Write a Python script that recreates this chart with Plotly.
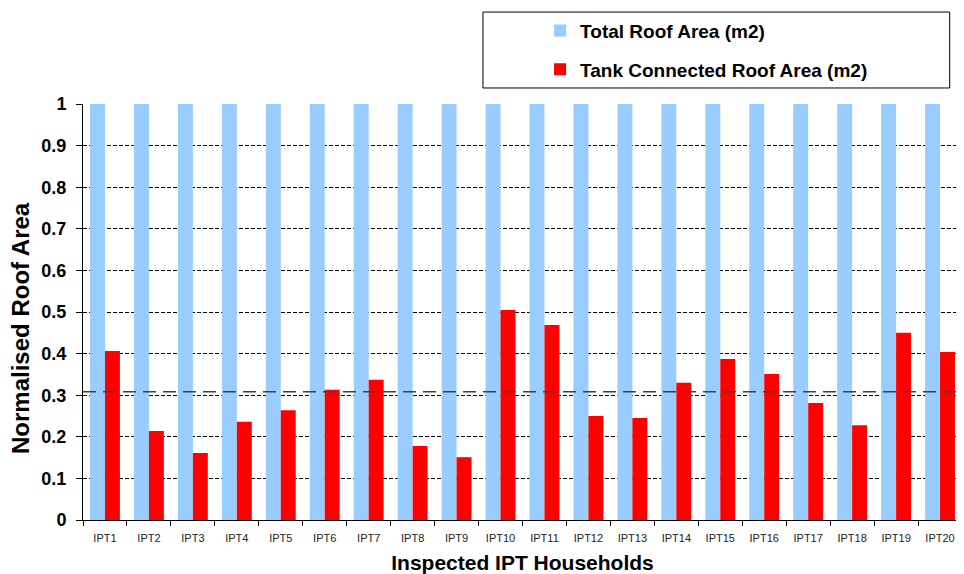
import plotly.graph_objects as go

households = [f"IPT{i}" for i in range(1, 21)]
total_roof = [1.0] * 20
tank_roof = [0.406, 0.214, 0.161, 0.236, 0.264, 0.313, 0.337, 0.178, 0.151, 0.505,
             0.469, 0.250, 0.245, 0.330, 0.387, 0.351, 0.281, 0.228, 0.450, 0.404]
y_ticks = [0, 0.1, 0.2, 0.3, 0.4, 0.5, 0.6, 0.7, 0.8, 0.9, 1]
y_tick_labels = ["0", "0.1", "0.2", "0.3", "0.4", "0.5", "0.6", "0.7", "0.8", "0.9", "1"]

mean_tank = sum(tank_roof) / len(tank_roof)

FONT = "Liberation Sans, Arial, sans-serif"

fig = go.Figure()
fig.add_trace(go.Bar(x=households, y=total_roof, name="Total Roof Area (m2)",
                     marker=dict(color="#99CCFF", line=dict(width=0)), legendgroup="a"))
fig.add_trace(go.Bar(x=households, y=tank_roof, name="Tank Connected Roof Area (m2)",
                     marker=dict(color="#FF0000", line=dict(width=0)), legendgroup="b"))

fig.add_shape(type="line", xref="paper", x0=0, x1=1, yref="y", y0=mean_tank, y1=mean_tank,
              line=dict(color="#404040", width=1.5, dash="13px,7px"), layer="above")

# legend frame
fig.add_shape(type="rect", xref="paper", yref="paper",
              x0=0.455, x1=0.986, y0=1.0385, y1=1.221,
              line=dict(color="black", width=1), fillcolor="white", layer="below")

# y-axis title (as annotation to match its slightly lowered position)
fig.add_annotation(text="<b>Normalised Roof Area</b>", textangle=-90,
                   xref="paper", yref="paper", x=-0.0717, y=0.4615,
                   xanchor="center", yanchor="middle", showarrow=False,
                   font=dict(size=24, family=FONT, color="black"))

fig.update_layout(
    width=956, height=566,
    margin=dict(l=75, r=2, t=96, b=54),
    paper_bgcolor="white", plot_bgcolor="white",
    barmode="group", bargap=0.32, bargroupgap=0,
    font=dict(family=FONT, color="black"),
    showlegend=True,
    legend=dict(x=0.52, y=1.222, xanchor="left", yanchor="top",
                bgcolor="rgba(0,0,0,0)", borderwidth=0,
                font=dict(size=19, family=FONT, color="black", weight="bold"),
                tracegroupgap=11, traceorder="grouped"),
    xaxis=dict(
        showline=True, linecolor="black", linewidth=1,
        ticks="outside", ticklen=5, tickcolor="black", tickson="boundaries",
        tickfont=dict(size=11, color="#222222"), ticklabelstandoff=8,
        showgrid=False, automargin=False,
        title=dict(text="Inspected IPT Households", font=dict(size=21, weight="bold"), standoff=13),
    ),
    yaxis=dict(
        range=[0, 1], tickvals=y_ticks, ticktext=y_tick_labels,
        showline=True, linecolor="black", linewidth=1,
        ticks="outside", ticklen=6, tickcolor="black", ticklabelstandoff=6,
        tickfont=dict(size=18, weight="bold"),
        showgrid=True, gridcolor="black", gridwidth=1, griddash="4px,2px",
        zeroline=False, automargin=False,
    ),
)

fig.write_html("out.html")
